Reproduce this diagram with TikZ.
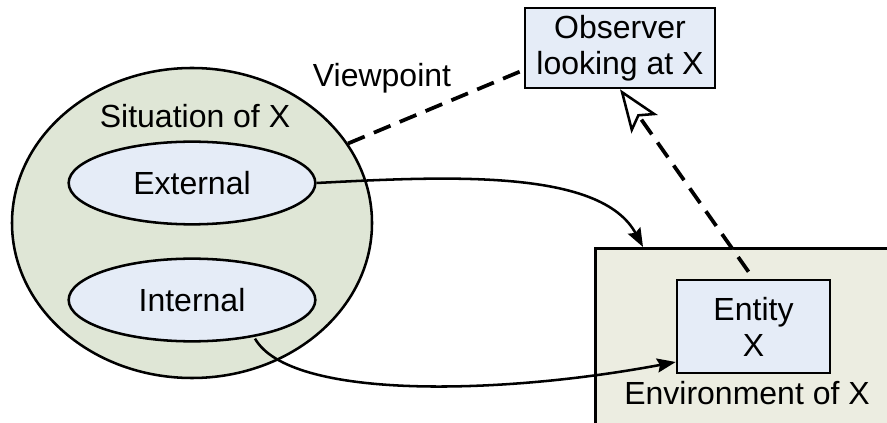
\documentclass[tikz,border=0pt]{standalone}
\usepackage{fontspec}
\setmainfont{Liberation Sans}
\usetikzlibrary{arrows.meta,shapes.geometric,calc}
\definecolor{sitfill}{RGB}{223,230,214}
\definecolor{partfill}{RGB}{229,236,247}
\definecolor{envfill}{RGB}{236,237,225}
\begin{document}
\begin{tikzpicture}[x=0.75pt,y=-0.75pt,
  font=\fontsize{24}{27}\selectfont,
  outline/.style={draw=black, line width=1.9pt},
  situation/.style={ellipse, outline, fill=sitfill, inner sep=0pt,
    minimum width=270pt, minimum height=232.5pt},
  part/.style={ellipse, outline, fill=partfill, inner sep=0pt,
    minimum width=185pt, minimum height=62pt},
  box/.style={rectangle, outline, fill=partfill, inner sep=0pt, align=center},
  envbox/.style={rectangle, outline, fill=envfill, inner sep=0pt},
  txt/.style={inner sep=0pt, align=center},
  flow/.style={-{Stealth[length=14pt,width=10.5pt,inset=2pt]}, line width=1.9pt},
  view/.style={line width=2.8pt, dash pattern=on 13.5pt off 7.5pt},
  looks/.style={view, -{Stealth[open,length=32pt,width=24pt,inset=7pt,line width=1.9pt]}, fill=white}
]
\clip (0,0) rectangle (887,423);

% situation of X with its two aspects
\node[situation] (sit) at (192,223) {};
\node[txt] (sitlabel) at (195,116) {Situation of X};
\node[part] (ext) at (192,183) {External};
\node[part] (int) at (192,300) {Internal};

% environment (running past the right and bottom edges) and entity
\node[envbox, anchor=north west, minimum width=260pt, minimum height=150pt] (env) at (594,247) {};
\node[box, minimum width=114.75pt, minimum height=69.75pt] (ent) at (753.5,326.5) {Entity\\X};
\node[txt] (envlabel) at (747,393) {Environment of X};

% observer
\node[box, minimum width=142.5pt, minimum height=60pt] (obs) at (620,48) {Observer\\looking at X};
\node[txt] (vp) at (382,78) {Viewpoint};

% connectors
\draw[view] (sit.27.6) -- ($(obs.west)+(0,22)$);
\draw[looks] ($(ent.north)+(-5,-7)$) -- (obs.south);
\draw[flow] (ext.east) .. controls (450,176) and (601,169) .. ($(env.north west)+(49,0)$);
\draw[flow] ($(int.south)+(63,-4)$) .. controls (290,400) and (500,395) .. ($(ent.west)+(0,35.5)$);
\end{tikzpicture}
\end{document}
